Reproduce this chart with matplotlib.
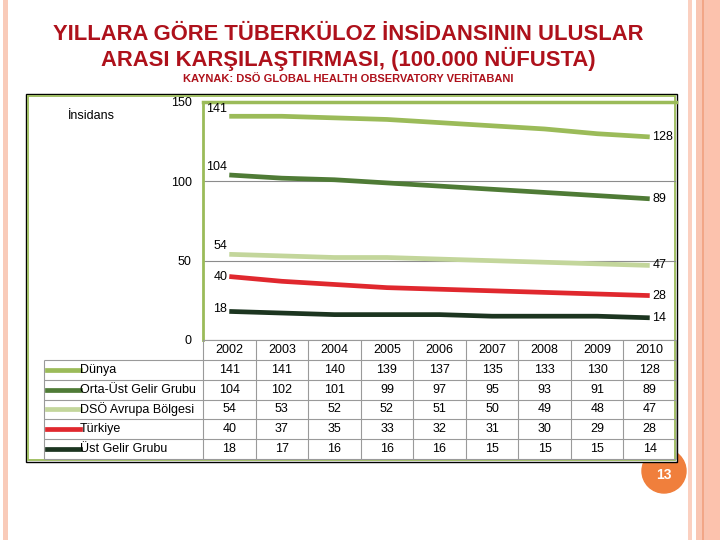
import matplotlib
matplotlib.use("Agg")
import matplotlib.pyplot as plt
from matplotlib.patches import Rectangle, Circle
import numpy as np

plt.rcParams['font.family'] = ['Liberation Sans', 'DejaVu Sans']

#------------------------------------------------------------------------------
# data

years = ['2002', '2003', '2004', '2005', '2006', '2007', '2008', '2009', '2010']
series_names = ['Dünya', 'Orta-Üst Gelir Grubu', 'DSÖ Avrupa Bölgesi',
                'Türkiye', 'Üst Gelir Grubu']
dunya      = [141, 141, 140, 139, 137, 135, 133, 130, 128]
orta_ust   = [104, 102, 101, 99, 97, 95, 93, 91, 89]
dso_avrupa = [54, 53, 52, 52, 51, 50, 49, 48, 47]
turkiye    = [40, 37, 35, 33, 32, 31, 30, 29, 28]
ust_gelir  = [18, 17, 16, 16, 16, 15, 15, 15, 14]
y_ticks = [0, 50, 100, 150]

title_1 = 'YILLARA GÖRE TÜBERKÜLOZ İNSİDANSININ ULUSLAR'
title_2 = 'ARASI KARŞILAŞTIRMASI, (100.000 NÜFUSTA)'
source = 'KAYNAK: DSÖ GLOBAL HEALTH OBSERVATORY VERİTABANI'
y_label = 'İnsidans'
page_no = '13'

series = [dunya, orta_ust, dso_avrupa, turkiye, ust_gelir]
colors = ['#9BBB59', '#4F7B36', '#C3D69B', '#E0282E', '#1C3520']
first_dy = [5, 6, 6, 0, 1.5]   # label offsets (points) for first value

#------------------------------------------------------------------------------

W, H = 720, 540

def px(x0, y0, x1, y1):
  return [x0 / W, 1 - y1 / H, (x1 - x0) / W, (y1 - y0) / H]

fig = plt.figure(figsize=(7.2, 5.4), dpi=100)

# slide background and decorations
bg = fig.add_axes([0, 0, 1, 1])
bg.set_xlim(0, W)
bg.set_ylim(H, 0)
bg.axis('off')

for x0, w, c in [(3, 5, '#F9CBB9'), (688, 4, '#FBD0C0'), (696, 6, '#F9C6B3'),
                 (702, 2, '#F2A687'), (704, 4, '#F9C3AF'), (708, 12, '#FCC2AD')]:
  bg.add_patch(Rectangle((x0, 0), w, H, color=c, lw=0))

# page number badge sits behind the chart frame
bg.add_patch(Circle((664, 471), 22, color='#F07F3C', zorder=1))
bg.text(664, 475, page_no, ha='center', va='center', fontsize=10, color='white',
        fontweight='bold', zorder=1.5)

bg.add_patch(Rectangle((26, 94), 651, 368, fc='white', ec='black', lw=1, zorder=2))
bg.add_patch(Rectangle((28, 96), 647, 364, fill=False, ec='#9BBB59', lw=1.3,
                       zorder=2.1))

bg.text(348, 40, title_1, ha='center', va='baseline', fontsize=15.8,
        color='#AE111B', fontweight='bold')
bg.text(348, 66, title_2, ha='center', va='baseline', fontsize=15.8,
        color='#AE111B', fontweight='bold')
bg.text(348, 82, source, ha='center', va='baseline', fontsize=8,
        color='#AE111B', fontweight='bold')
bg.text(68, 116, y_label, ha='left', va='center', fontsize=9, zorder=3)

#------------------------------------------------------------------------------
# line chart

ax = fig.add_axes(px(203, 102, 676, 340))
ax.set_facecolor('none')
x = np.arange(len(years))
for vals, c, dy in zip(series, colors, first_dy):
  ax.plot(x, vals, color=c, lw=3.4, solid_capstyle='butt', zorder=3)
  ax.annotate(str(vals[0]), (x[0], vals[0]), xytext=(-1.5, dy),
              textcoords='offset points', ha='right', va='center', fontsize=9)
  ax.annotate(str(vals[-1]), (x[-1], vals[-1]), xytext=(2, 0),
              textcoords='offset points', ha='left', va='center', fontsize=9)

ax.set_xlim(-0.5, len(years) - 0.5)
ax.set_ylim(0, 150)
ax.set_xticks([])
ax.set_yticks(y_ticks)
ax.tick_params(axis='y', length=0, pad=8, labelsize=9)
ax.yaxis.grid(True, color='#8C8C8C', lw=0.8)
ax.set_axisbelow(True)
ax.spines['right'].set_visible(False)
ax.spines['left'].set_color('#9BBB59')
ax.spines['left'].set_linewidth(2)
ax.spines['top'].set_color('#9BBB59')
ax.spines['top'].set_linewidth(2.5)
ax.spines['bottom'].set_color('#9A9A9A')
ax.spines['bottom'].set_linewidth(0.8)

#------------------------------------------------------------------------------
# data table under the chart

tax = fig.add_axes(px(203, 340, 676, 459))
tax.set_xlim(-0.5, len(years) - 0.5)
tax.set_ylim(len(series) + 1, 0)
tax.axis('off')

col_w = (676 - 203) / len(years)
xl = -0.5 + (44 - 203) / col_w
grid_c = '#9A9A9A'

tax.vlines(np.arange(len(years) + 1) - 0.5, 0, len(series) + 1, color=grid_c,
           lw=0.8, clip_on=False)
tax.vlines(xl, 1, len(series) + 1, color=grid_c, lw=0.8, clip_on=False)
tax.hlines(np.arange(1, len(series) + 2), xl, len(years) - 0.5, color=grid_c,
           lw=0.8, clip_on=False)

for i, yr in enumerate(years):
  tax.text(i, 0.5, yr, ha='center', va='center', fontsize=9)

for r, (name, vals, c) in enumerate(zip(series_names, series, colors)):
  yy = r + 1.5
  tax.plot([xl + 3 / col_w, xl + 36 / col_w], [yy, yy], color=c, lw=3.4,
           clip_on=False)
  tax.text(xl + 36 / col_w, yy, name, ha='left', va='center', fontsize=9)
  for i, v in enumerate(vals):
    tax.text(i, yy, str(v), ha='center', va='center', fontsize=9)

fig.savefig('out.png', dpi=100)
